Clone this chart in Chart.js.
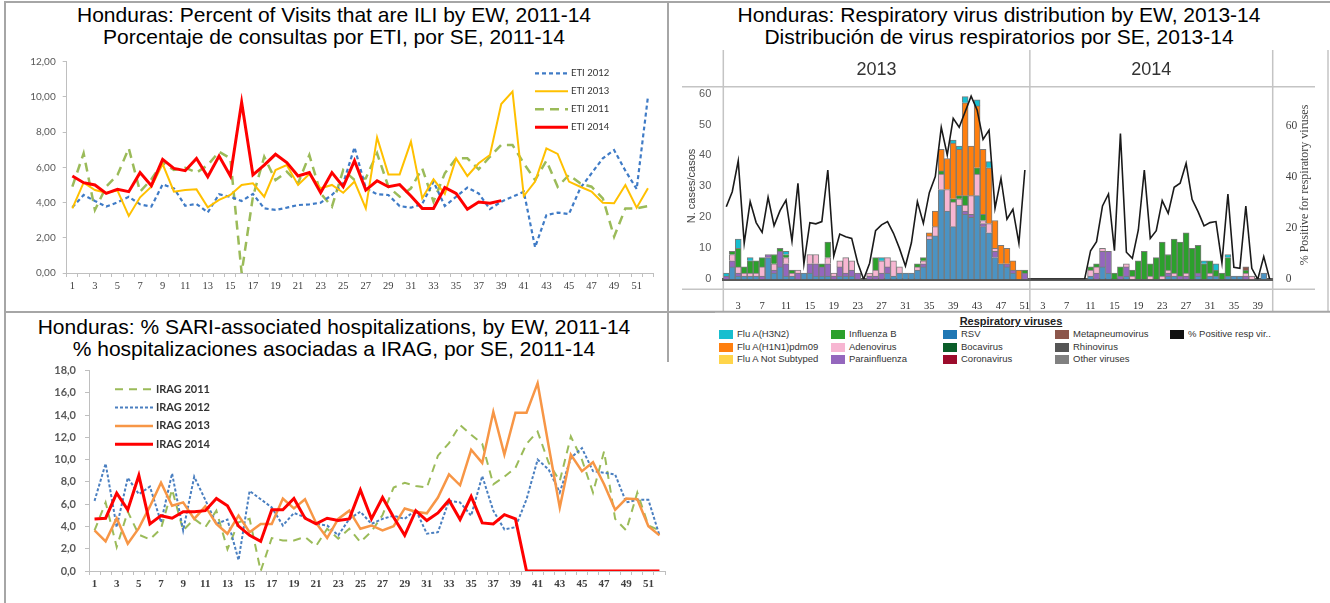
<!DOCTYPE html>
<html>
<head>
<meta charset="utf-8">
<script src="https://cdn.jsdelivr.net/npm/chart.js@4.4.1/dist/chart.umd.min.js"></script>
<style>
  html, body { margin: 0; padding: 0; background: #fff; }
  body { width: 1330px; height: 603px; position: relative; overflow: hidden; font-family: "Liberation Sans", Arial, sans-serif; }
  canvas { position: absolute; }
  .title { position: absolute; text-align: center; font-size: 21px; line-height: 22px; color: #000; white-space: nowrap; }
  .rule { position: absolute; background: #a6a6a6; }
  #legendTitle { position: absolute; left: 1011px; top: 315px; transform: translateX(-50%); font-size: 11px; font-weight: bold; text-decoration: underline; color: #222; }
  .lg { position: absolute; font-size: 9.5px; color: #333; white-space: nowrap; line-height: 10px; }
  .lg i { position: absolute; left: -18px; top: 1px; width: 14px; height: 9px; }
</style>
</head>
<body>

<div class="rule" style="left:5px;top:1px;width:1325px;height:2px"></div>
<div class="rule" style="left:4px;top:1px;width:2px;height:602px"></div>
<div class="rule" style="left:667px;top:1px;width:2px;height:361px"></div>
<div class="rule" style="left:5px;top:311px;width:710px;height:2px"></div>

<div class="title" style="left:0;top:4px;width:668px">Honduras: Percent of Visits that are ILI by EW, 2011-14<br>Porcentaje de consultas por ETI, por SE, 2011-14</div>
<div class="title" style="left:668px;top:4px;width:662px">Honduras: Respiratory virus distribution by EW, 2013-14<br>Distribución de virus respiratorios por SE, 2013-14</div>
<div class="title" style="left:0;top:316px;width:668px">Honduras: % SARI-associated hospitalizations, by EW, 2011-14<br>% hospitalizaciones asociadas a IRAG, por SE, 2011-14</div>

<canvas id="eti" width="668" height="270" style="left:0;top:40px"></canvas>
<canvas id="virus" width="660" height="275" style="left:670px;top:40px"></canvas>
<canvas id="irag" width="668" height="248" style="left:0;top:355px"></canvas>

<div id="legendTitle">Respiratory viruses</div>
<div id="virusLegend"></div>

<script>
// epidemiological weeks
const weeks52 = [1,2,3,4,5,6,7,8,9,10,11,12,13,14,15,16,17,18,19,20,21,22,23,24,25,26,
  27,28,29,30,31,32,33,34,35,36,37,38,39,40,41,42,43,44,45,46,47,48,49,50,51,52];
const weeks2013 = [1,2,3,4,5,6,7,8,9,10,11,12,13,14,15,16,17,18,19,20,21,22,23,24,25,26,
  27,28,29,30,31,32,33,34,35,36,37,38,39,40,41,42,43,44,45,46,47,48,49,50,51];
const weeks2014 = [1,2,3,4,5,6,7,8,9,10,11,12,13,14,15,16,17,18,19,20,21,
  22,23,24,25,26,27,28,29,30,31,32,33,34,35,36,37,38,39,40,41];

// ILI (ETI) % of visits
const etiTickLabels = ['0,00','2,00','4,00','6,00','8,00','10,00','12,00'];
const eti2011 = [4.9,6.8,3.58,4.9,5.57,7.08,4.62,5.32,6.27,5.85,5.98,5.7,6.13,6.89,6.51,0,4.33,6.6,5.28,5.75,
  5.09,6.7,4.52,3.77,5.85,5.28,5.38,6.8,4.9,4.33,4.81,5.94,4.05,5.66,6.51,6.51,5.89,6.6,7.27,7.27,
  6.23,5.28,6.38,4.9,5.57,5.09,4.9,4.24,2.06,3.67,3.67,3.8];
const eti2012 = [3.73,4.43,4.09,3.77,4.01,4.33,3.9,3.77,5.03,4.81,3.82,3.92,3.44,4.47,4.33,4.09,4.49,3.67,3.58,3.71,
  3.86,3.9,3.99,4.43,5.09,7.14,4.81,4.47,4.43,3.8,3.71,3.92,5.19,3.8,4.33,4.85,4.52,3.63,4.05,4.33,
  4.62,1.46,3.29,3.43,3.35,4.81,5.66,6.51,6.98,5.81,4.77,10.01];
const eti2013 = [3.67,5.13,4.71,4.56,4.68,3.24,4.3,4.9,6.19,4.62,4.71,4.75,3.73,4.15,4.43,5.0,5.09,4.33,5.85,6.13,
  5.0,5.62,4.81,5.0,4.56,5.19,3.67,7.7,5.6,5.6,7.46,4.24,5.32,4.49,6.51,5.51,6.23,6.7,9.6,10.3,
  4.37,5.19,7.08,6.76,5.19,4.9,4.62,3.99,3.96,5.0,3.71,4.81];
const eti2014 = [5.51,5.13,5.0,4.52,4.75,4.62,5.7,4.96,6.45,5.94,5.81,6.51,5.47,6.64,5.51,9.69,5.57,6.13,6.74,6.27,
  5.51,5.7,4.56,5.7,4.9,6.38,4.71,5.24,4.9,5.02,4.37,3.67,3.67,4.86,4.52,3.62,4.03,3.96,4.11];

// SARI (IRAG) % of hospitalizations
const iragTickLabels = ['0,0','2,0','4,0','6,0','8,0','10,0','12,0','14,0','16,0','18,0'];
const irag2011 = [3.64,6.16,2.16,5.33,3.26,2.84,3.79,7.34,3.64,4.68,3.94,5.42,1.95,4.38,4.68,0,2.96,2.75,2.75,3.05,
  2.25,3.79,2.9,3.79,2.6,3.55,5.03,7.49,7.93,7.64,7.49,10.36,11.49,13.11,12.23,11.43,7.79,8.47,9.27,11.43,
  12.52,9.71,8.08,12.08,10.0,7.05,10.75,4.68,3.64,7.05,4.09,3.64];
const irag2012 = [6.3,9.65,3.94,8.38,6.9,7.58,4.38,8.76,3.64,8.47,6.39,4.23,4.62,0.98,7.19,6.45,5.71,4.09,5.21,4.83,
  4.23,4.09,3.2,4.68,5.33,4.23,4.68,4.97,4.68,5.5,3.35,3.49,6.3,6.16,4.97,8.53,5.42,3.73,3.94,6.45,
  10.0,9.12,7.05,10.15,11.04,8.97,8.82,8.67,6.16,6.39,6.39,3.2];
const irag2013 = [3.64,2.66,4.74,2.46,3.85,5.8,7.93,5.86,6.16,4.68,5.8,4.23,3.35,4.97,3.49,4.23,4.23,6.51,5.62,6.45,
  4.32,2.96,4.68,5.42,3.79,4.09,3.64,4.03,5.62,5.33,5.18,6.6,8.67,7.7,10.89,9.71,14.3,10.45,14.21,14.21,
  16.87,11.2,5.71,10.45,8.97,9.77,7.79,5.5,6.51,6.45,4.03,3.2];
const irag2014 = [4.68,4.74,6.99,5.5,8.58,4.23,4.97,4.74,5.33,5.33,5.42,6.51,5.86,4.03,3.2,2.66,5.5,5.5,6.51,4.74,
  4.23,4.74,4.53,4.68,7.28,4.68,6.6,4.83,3.2,5.42,4.53,5.21,6.36,4.62,6.69,4.32,4.23,5.06,4.68,0,
  0,0,0,0,0,0,0,0,0,0,0,0];

// respiratory viruses, cases per week (2013 then 2014)
const rsv13   = [0,4,1,1,1,1,0,7,2,4, 1,1,0,2,2,1,1,1,0,1, 1,1,0,0,0,0,0,2,1,2, 2,2,3,4,13,14,29,22,17,24, 21,20,27,17,15,7,5,4,2,0, 0];
const para13  = [1,2,1,0,0,0,1,1,1,5, 4,0,2,0,3,4,3,4,1,3, 1,2,2,0,1,1,2,2,0,0, 0,0,0,1,0,0,0,0,0,0, 1,1,0,1,0,2,0,1,1,0, 2];
const adeno13 = [0,2,2,1,1,1,3,0,2,0, 2,1,1,0,3,3,0,2,1,2, 5,3,0,0,1,2,4,3,5,2, 0,0,1,1,1,3,5,7,8,2, 2,6,7,1,3,1,0,0,0,0, 0];
const fluB13  = [0,1,6,2,4,4,3,0,3,1, 1,1,0,0,0,0,1,5,0,0, 0,0,0,0,0,4,0,0,0,0, 0,0,1,1,0,0,1,0,1,1, 3,0,2,2,0,0,0,0,0,0, 1];
const h1n113  = [0,0,0,0,0,0,0,0,0,0, 0,0,0,0,0,0,0,0,0,0, 0,0,0,0,0,0,0,0,0,0, 0,0,0,0,1,5,7,10,18,15, 30,16,20,21,18,9,6,5,3,3, 0];
const h3n213  = [1,0,3,0,1,0,0,0,0,0, 1,0,0,0,0,0,0,0,0,0, 0,0,0,0,0,0,1,0,0,0, 0,0,0,0,0,0,0,0,1,1, 2,0,2,0,2,0,0,0,0,0, 0];
const meta13  = [0,0,0,0,0,0,0,0,0,0, 0,0,0,0,0,0,0,0,0,0, 0,0,0,0,0,0,0,0,0,0, 0,0,0,0,0,0,0,0,0,0, 0,0,0,0,0,0,0,0,0,0, 0];
const rsv14   = [0,0,0,0,0,0,0,0,0,0, 1,0,4,2,0,0,1,0,0,0, 0,0,0,1,1,0,0,0,1,0, 1,1,0,1,1,1,0,0,0,2, 0];
const para14  = [0,0,0,0,0,0,0,0,0,0, 0,2,5,7,0,1,3,0,0,0, 0,0,0,1,0,1,1,0,1,0, 0,0,0,0,0,0,1,0,0,0, 0];
const adeno14 = [0,0,0,0,0,0,0,0,0,0, 2,2,1,0,0,0,1,1,0,0, 1,0,1,1,1,0,1,0,0,0, 1,0,0,0,0,0,1,1,0,0, 0];
const fluB14  = [0,0,0,0,0,0,0,0,0,0, 1,1,0,0,2,3,0,2,6,9, 4,7,11,5,11,11,13,10,9,5, 4,2,2,6,0,0,1,0,0,0, 0];
const h1n114  = [0,0,0,0,0,0,0,0,0,0, 0,0,0,0,0,0,0,0,0,0, 0,0,0,0,0,0,0,0,0,0, 0,0,0,0,0,0,0,0,0,0, 0];
const h3n214  = [0,0,0,0,0,0,0,0,0,0, 0,0,0,0,0,0,0,0,0,0, 0,0,0,0,0,0,0,0,0,1, 0,2,0,1,0,0,0,0,0,0, 0];
const meta14  = [0,0,0,0,0,0,0,0,0,0, 0,0,0,0,0,0,0,0,0,0, 0,0,0,0,0,0,0,0,0,0, 0,0,0,0,0,0,1,0,0,0, 0];
// % positive for respiratory viruses
const pctPos13 = [28.4,34.3,46.4,14.1,30.4,22.2,18.4,32.1,21,26.9,31,15,37.6,6,22.2,21.7,22.6,42.8,9.1,17.7,
  16.7,16,6.5,0,6.3,19,21.3,22.6,18,12.1,5.2,14.3,30.4,21.9,33.9,40.2,59.5,48.7,63,59.5,
  65.6,71.7,66.3,54.8,58.4,27.8,39.5,23.5,27.4,14.1,42.8];
const pctPos14 = [0,0,0,0,0,0,0,0,0,0,11.2,14.7,28.7,33.4,11.2,57.1,10.6,8.2,19.3,42.8,
  16,19,30.8,25.8,36,37.6,45.4,31.3,26.5,20.9,22.2,22.6,6.5,33.4,4.7,4.3,28.7,4.3,0,8.9,0];
const caseTicks = [0, 10, 20, 30, 40, 50, 60];
const pctTicks = [0, 20, 40, 60];

// legend of the virus chart (column by column)
const legendNames = ['Flu A(H3N2)','Flu A(H1N1)pdm09','Flu A Not Subtyped','Influenza B','Adenovirus','Parainfluenza',
  'RSV','Bocavirus','Coronavirus','Metapneumovirus','Rhinovirus','Other viruses','% Positive resp vir..'];
const legendColors = ['#17becf','#ff7f0e','#ffd54a','#2ca02c','#f7b6d2','#9467bd',
  '#1f77b4','#0b5e2a','#9c0c2c','#8c564b','#555555','#808080','#111111'];

Chart.defaults.animation = false;
Chart.defaults.responsive = false;
Chart.defaults.plugins.legend.display = false;
Chart.defaults.plugins.tooltip.enabled = false;

// little line legend drawn inside the plot
const lineLegend = {
  id: 'lineLegend',
  afterDraw(chart, args, opts) {
    const ctx = chart.ctx;
    ctx.save();
    opts.order.forEach((di, row) => {
      const ds = chart.data.datasets[di];
      const y = opts.y + row * opts.dy;
      ctx.beginPath();
      ctx.setLineDash(ds.borderDash || []);
      ctx.strokeStyle = ds.borderColor;
      ctx.lineWidth = ds.borderWidth;
      ctx.moveTo(opts.x, y);
      ctx.lineTo(opts.x + opts.len, y);
      ctx.stroke();
      ctx.setLineDash([]);
      ctx.fillStyle = '#333';
      ctx.font = opts.font;
      ctx.textBaseline = 'middle';
      ctx.fillText(ds.label, opts.x + opts.len + 3, y);
    });
    ctx.restore();
  }
};

function weekAxis(weeks, height, font) {
  return {
    offset: true,
    grid: { offset: true, drawOnChartArea: false, tickLength: 4, color: '#bfbfbf' },
    border: { color: '#bfbfbf' },
    ticks: {
      autoSkip: false, maxRotation: 0, padding: 3, color: '#404040', font: font,
      callback: (v, i) => (weeks[i] % 2 === 1 ? weeks[i] : '')
    },
    afterFit: s => { s.height = height; }
  };
}

// ---- ILI chart ----
new Chart(document.getElementById('eti'), {
  type: 'line',
  data: {
    labels: weeks52,
    datasets: [
      { label: 'ETI 2012', data: eti2012, borderColor: '#3f7bc6', borderWidth: 2.2, borderDash: [4, 3], order: 2 },
      { label: 'ETI 2013', data: eti2013, borderColor: '#ffc000', borderWidth: 2, order: 1 },
      { label: 'ETI 2011', data: eti2011, borderColor: '#9bbb59', borderWidth: 2.5, borderDash: [9, 6], order: 3 },
      { label: 'ETI 2014', data: eti2014, borderColor: '#ff0000', borderWidth: 3, order: 0 }
    ]
  },
  options: {
    layout: { padding: { top: 21.7, right: 14.4, left: 0, bottom: 0 } },
    elements: { point: { radius: 0 }, line: { tension: 0 } },
    scales: {
      x: weekAxis(weeks52, 37, { family: 'Liberation Serif', size: 10.5 }),
      y: {
        min: 0, max: 12,
        grid: { drawOnChartArea: false, tickLength: 4, color: '#bfbfbf' },
        border: { color: '#bfbfbf' },
        ticks: { stepSize: 2, padding: 7, color: '#595959', font: { family: 'Lato', size: 10 },
          callback: v => etiTickLabels[v / 2] },
        afterFit: s => { s.width = 66.7; }
      }
    },
    plugins: {
      lineLegend: { order: [0, 1, 2, 3], x: 535, y: 33.3, dy: 18, len: 33, font: '9.5px Lato' }
    }
  },
  plugins: [lineLegend]
});

// ---- SARI chart ----
new Chart(document.getElementById('irag'), {
  type: 'line',
  data: {
    labels: weeks52,
    datasets: [
      { label: 'IRAG 2011', data: irag2011, borderColor: '#9bbb59', borderWidth: 2, borderDash: [8, 6], order: 3 },
      { label: 'IRAG 2012', data: irag2012, borderColor: '#4a7fc0', borderWidth: 2, borderDash: [3, 2], order: 2 },
      { label: 'IRAG 2013', data: irag2013, borderColor: '#f79646', borderWidth: 2.5, order: 1 },
      { label: 'IRAG 2014', data: irag2014, borderColor: '#ff0000', borderWidth: 3, order: 0 }
    ]
  },
  options: {
    layout: { padding: { top: 13.3, right: 3, left: 0, bottom: 0 } },
    elements: { point: { radius: 0 }, line: { tension: 0 } },
    scales: {
      x: weekAxis(weeks52, 32, { family: 'Liberation Serif', size: 11, weight: 'bold' }),
      y: {
        min: 0, max: 18,
        grid: { drawOnChartArea: false, tickLength: 4, color: '#bfbfbf' },
        border: { color: '#bfbfbf' },
        ticks: { stepSize: 2, padding: 9, color: '#595959', font: { family: 'Lato', size: 11, weight: 'bold' },
          callback: v => iragTickLabels[v / 2] },
        afterFit: s => { s.width = 89; }
      }
    },
    plugins: {
      lineLegend: { order: [0, 1, 2, 3], x: 115, y: 34.3, dy: 18.3, len: 38, font: 'bold 11px Lato' }
    }
  },
  plugins: [lineLegend]
});

// ---- respiratory virus chart ----
const virusWeeks = weeks2013.concat(weeks2014);
const nullZero = arr => arr.map(v => (v === 0 ? null : v));
const virusSeries = [
  ['RSV', rsv13, rsv14, '#4b93c3'],
  ['Parainfluenza', para13, para14, '#9467bd'],
  ['Adenovirus', adeno13, adeno14, '#f7b6d2'],
  ['Influenza B', fluB13, fluB14, '#2ca02c'],
  ['Flu A(H1N1)pdm09', h1n113, h1n114, '#ff7f0e'],
  ['Flu A(H3N2)', h3n213, h3n214, '#17becf'],
  ['Metapneumovirus', meta13, meta14, '#8c564b']
];
const virusDatasets = virusSeries.map(([name, a, b, color]) => ({
  type: 'bar', label: name, data: nullZero(a.concat(b)), backgroundColor: color,
  borderColor: '#7a7a7a', borderWidth: 1, stack: 'v', yAxisID: 'y', order: 1,
  barPercentage: 1, categoryPercentage: 1
}));
const yearBreak = weeks2013.length - 1;
virusDatasets.push({
  type: 'line', label: '% Positive resp vir..', data: pctPos13.concat(pctPos14), yAxisID: 'y1',
  borderColor: '#1a1a1a', borderWidth: 1.6, pointRadius: 0, tension: 0, order: 0,
  segment: { borderColor: c => (c.p0DataIndex === yearBreak ? 'rgba(0,0,0,0)' : '#1a1a1a') }
});

const pivotFrame = {
  id: 'pivotFrame',
  beforeDraw(chart) {
    const { ctx, chartArea: a, scales: { x } } = chart;
    const divX = (x.getPixelForValue(yearBreak) + x.getPixelForValue(yearBreak + 1)) / 2 + 2;
    const seg = (x1, y1, x2, y2) => { ctx.beginPath(); ctx.moveTo(x1, y1); ctx.lineTo(x2, y2); ctx.stroke(); };
    ctx.save();
    ctx.strokeStyle = '#c4c4c4';
    ctx.lineWidth = 1.5;
    seg(12, a.top, 645, a.top);
    seg(12, a.bottom + 10, 645, a.bottom + 10);
    [a.left, divX, a.right, 658].forEach(v => seg(v, 10, v, 271.7));
    ctx.strokeStyle = '#a6a6a6';
    ctx.lineWidth = 2;
    seg(0, 271.7, 660, 271.7);
    ctx.fillStyle = '#333';
    ctx.font = '18px "Liberation Sans"';
    ctx.textAlign = 'center';
    ctx.textBaseline = 'middle';
    ctx.fillText('2013', (a.left + divX) / 2, 30);
    ctx.fillText('2014', (divX + a.right) / 2, 30);
    ctx.font = '11px "Liberation Sans"';
    ctx.fillStyle = '#404040';
    ctx.translate(21.7, 146);
    ctx.rotate(-Math.PI / 2);
    ctx.fillText('N. cases/casos', 0, 0);
    ctx.restore();
    ctx.save();
    ctx.font = '12px "Liberation Serif"';
    ctx.fillStyle = '#404040';
    ctx.textAlign = 'center';
    ctx.textBaseline = 'middle';
    ctx.translate(635, 145);
    ctx.rotate(-Math.PI / 2);
    ctx.fillText('% Positive for respiratory viruses', 0, 0);
    ctx.restore();
  }
};

new Chart(document.getElementById('virus'), {
  type: 'bar',
  data: { labels: virusWeeks, datasets: virusDatasets },
  options: {
    layout: { padding: { top: 46.7, left: 0, right: 0, bottom: 0 } },
    scales: {
      x: {
        stacked: true, offset: true,
        grid: { display: false },
        border: { display: true, color: '#595959', width: 3 },
        ticks: { autoSkip: false, maxRotation: 0, padding: 13, color: '#333',
          font: { family: 'Liberation Serif', size: 10.5 },
          callback: (v, i) => (virusWeeks[i] % 4 === 3 ? virusWeeks[i] : '') },
        afterFit: s => { s.height = 35.7; }
      },
      y: {
        stacked: true, position: 'left', min: 0, max: 62.2,
        grid: { display: false }, border: { display: false },
        ticks: { padding: 4, color: '#595959', font: { family: 'Liberation Sans', size: 11 } },
        afterBuildTicks: s => { s.ticks = caseTicks.map(v => ({ value: v })); },
        afterFit: s => { s.width = 53.3; }
      },
      y1: {
        position: 'right', min: 0, max: 75.4,
        grid: { display: false }, border: { display: false },
        ticks: { padding: 5, color: '#404040', font: { family: 'Liberation Serif', size: 11.5 } },
        afterBuildTicks: s => { s.ticks = pctTicks.map(v => ({ value: v })); },
        afterFit: s => { s.width = 57.3; }
      }
    }
  },
  plugins: [pivotFrame]
});

// legend below the virus chart, 3 rows per column
const legendColX = [737, 849, 961, 1073, 1188];
const legendRowY = [329, 341.5, 354];
const legendBox = document.getElementById('virusLegend');
legendNames.forEach((name, i) => {
  const el = document.createElement('div');
  el.className = 'lg';
  el.style.left = legendColX[Math.floor(i / 3)] + 'px';
  el.style.top = legendRowY[i % 3] + 'px';
  el.innerHTML = '<i style="background:' + legendColors[i] + '"></i>' + name;
  legendBox.appendChild(el);
});
</script>
</body>
</html>
